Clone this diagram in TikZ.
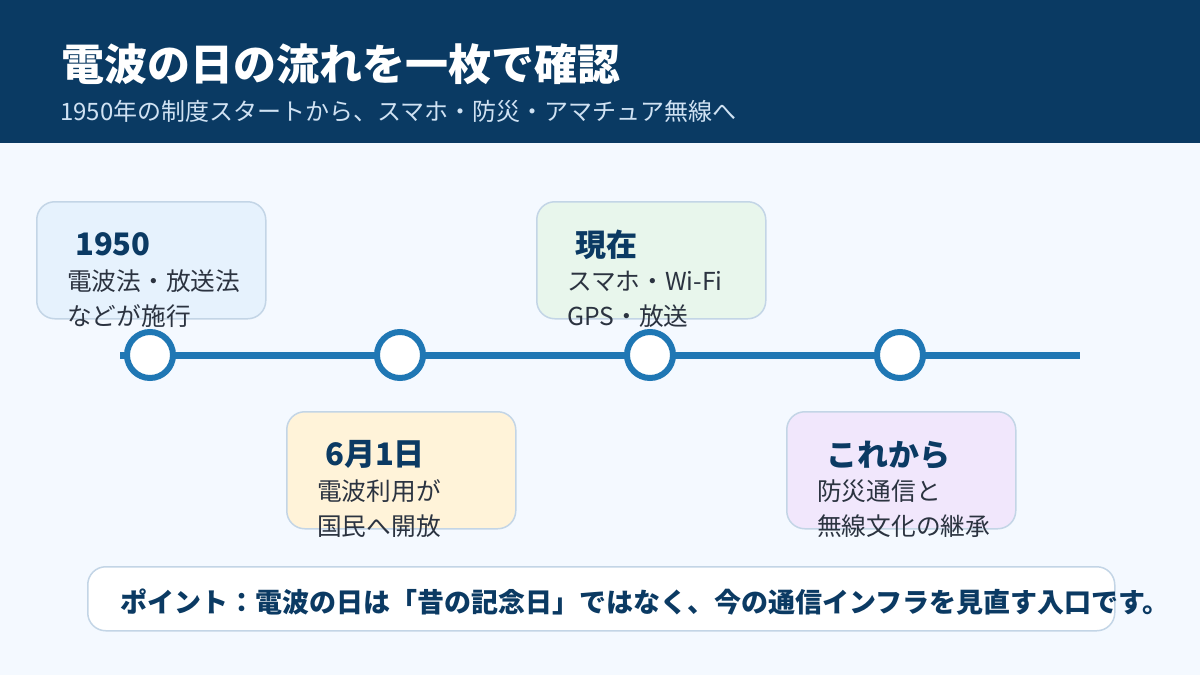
\documentclass[tikz,border=0pt]{standalone}
\usepackage{fontspec}
\setmainfont{Noto Sans CJK JP}
\definecolor{hdr}{HTML}{0A3A63}
\definecolor{bgc}{HTML}{F4F9FF}
\definecolor{tl}{HTML}{1F77B4}
\definecolor{bord}{HTML}{C3D5E6}
\definecolor{fa}{HTML}{E6F2FD}
\definecolor{fb}{HTML}{FFF3D9}
\definecolor{fc}{HTML}{E8F6EC}
\definecolor{fd}{HTML}{F1E7FC}
\definecolor{ttl}{HTML}{0B3A63}
\definecolor{bdy}{HTML}{2B3340}
\definecolor{sub}{HTML}{D0E2F3}
\tikzset{
  card/.style={draw=bord, line width=1.5pt, rounded corners=18pt, anchor=north west,
    minimum width=229pt, minimum height=117pt, inner sep=0pt},
  cardtitle/.style={anchor=base west, inner sep=0pt, text=ttl, font=\fontsize{31}{36}\selectfont\bfseries},
  cardbody/.style={anchor=base west, inner sep=0pt, text=bdy, font=\fontsize{24.7}{30}\selectfont},
  dot/.style={circle, draw=tl, line width=6pt, fill=white, minimum size=46pt, inner sep=0pt},
}
\begin{document}
\begin{tikzpicture}[x=1pt,y=-1pt]
\useasboundingbox (0,0) rectangle (1200,675);
\fill[bgc] (0,0) rectangle (1200,675);
\fill[hdr] (0,0) rectangle (1200,143);
\node[anchor=base west, inner sep=0pt, text=white, font=\fontsize{43}{50}\selectfont\bfseries] (title) at (61,80) {電波の日の流れを一枚で確認};
\node[anchor=base west, inner sep=0pt, text=sub, font=\fontsize{24}{28}\selectfont] (subtitle) at (60,120) {1950年の制度スタートから、スマホ・防災・アマチュア無線へ};
% timeline
\coordinate (tlstart) at (120,355);
\coordinate (tlend) at (1080,355);
\draw[tl, line width=7pt] (tlstart) -- (tlend);
\node[dot] (d1) at (150,355) {};
\node[dot] (d2) at (400,355) {};
\node[dot] (d3) at (650,355) {};
\node[dot] (d4) at (900,355) {};
% cards
\node[card, fill=fa] (c1) at (36,201) {};
\node[cardtitle] (c1t) at (75,255) {1950};
\node[cardbody] (c1a) at (67,290) {電波法・放送法};
\node[cardbody] (c1b) at (67,325) {などが施行};
\node[card, fill=fb] (c2) at (286,411) {};
\node[cardtitle] (c2t) at (325,465) {6月1日};
\node[cardbody] (c2a) at (317,500) {電波利用が};
\node[cardbody] (c2b) at (317,535) {国民へ開放};
\node[card, fill=fc] (c3) at (536,201) {};
\node[cardtitle] (c3t) at (575,256) {現在};
\node[cardbody] (c3a) at (567,290) {スマホ・Wi-Fi};
\node[cardbody] (c3b) at (567,325) {GPS・放送};
\node[card, fill=fd] (c4) at (786,411) {};
\node[cardtitle] (c4t) at (826,466) {これから};
\node[cardbody] (c4a) at (817,500) {防災通信と};
\node[cardbody] (c4b) at (817,535) {無線文化の継承};
% bottom note
\node[card, fill=white, minimum width=1027pt, minimum height=64pt] (note) at (87,566) {};
\node[anchor=base west, inner sep=0pt, text=ttl, font=\fontsize{27}{32}\selectfont\bfseries] (notet) at (120,612) {ポイント：電波の日は「昔の記念日」ではなく、今の通信インフラを見直す入口です。};
\end{tikzpicture}
\end{document}
